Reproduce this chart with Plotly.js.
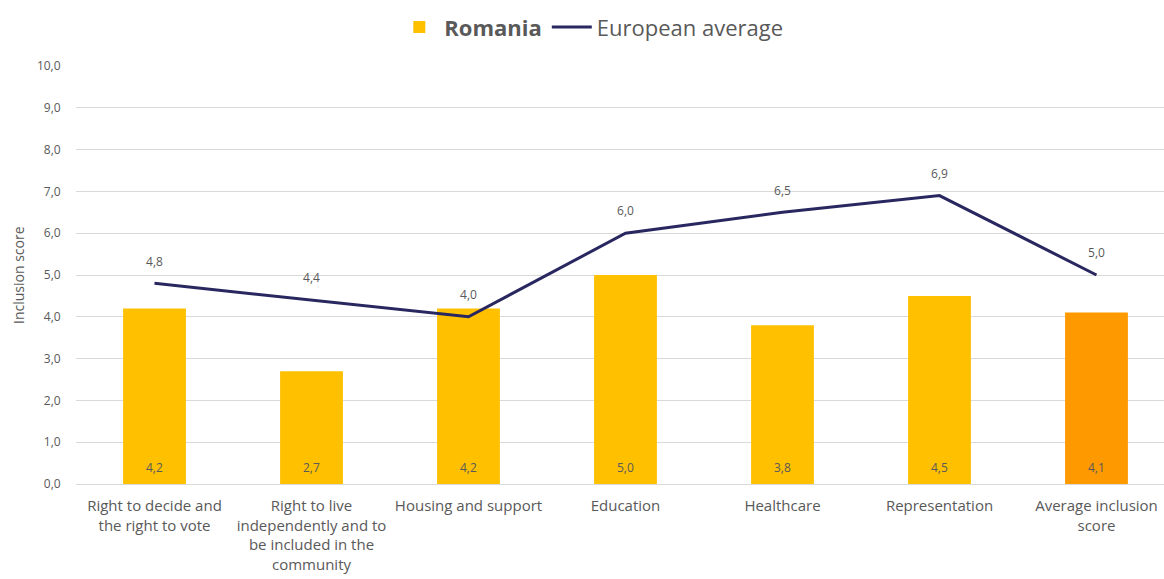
<!DOCTYPE html>
<html>
<head>
<meta charset="utf-8">
<script src="https://cdn.plot.ly/plotly-3.0.1.min.js"></script>
<style>html,body{margin:0;padding:0;background:#fff;}#chart{width:1164px;height:579px;}</style>
</head>
<body>
<div id="chart"></div>
<script>
const categories = [
  "Right to decide and<br>the right to vote",
  "Right to live<br>independently and to<br>be included in the<br>community",
  "Housing and support",
  "Education",
  "Healthcare",
  "Representation",
  "Average inclusion<br>score"
];
const romania = [4.2, 2.7, 4.2, 5.0, 3.8, 4.5, 4.1];
const europeanAverage = [4.8, 4.4, 4.0, 6.0, 6.5, 6.9, 5.0];
const barColors = ["#FFC000", "#FFC000", "#FFC000", "#FFC000", "#FFC000", "#FFC000", "#FF9900"];
const yTicks = [0, 1, 2, 3, 4, 5, 6, 7, 8, 9, 10];

const FONT = "'Open Sans', Lato, sans-serif";
const GRAY = "#595959";

const fmt = v => v.toFixed(1).replace(".", ",");

const traces = [
  {
    type: "bar",
    name: "<b>Romania</b>",
    x: categories,
    y: romania,
    marker: {color: barColors},
    width: 0.4,
    hoverinfo: "skip"
  },
  {
    type: "scatter",
    mode: "lines+markers+text",
    name: "European average",
    x: categories,
    y: europeanAverage,
    line: {color: "#29275F", width: 3},
    marker: {size: 22, color: "rgba(0,0,0,0)"},
    texttemplate: "%{y:.1f}",
    textposition: "top center",
    textfont: {family: FONT, size: 12, color: GRAY},
    cliponaxis: false,
    hoverinfo: "skip"
  }
];

const barLabels = categories.map((c, i) => ({
  x: c,
  y: 0,
  xref: "x",
  yref: "y",
  text: fmt(romania[i]),
  showarrow: false,
  yshift: 17,
  font: {family: FONT, size: 12, color: GRAY}
}));

const yTitle = {
  text: "Inclusion score",
  xref: "paper",
  yref: "paper",
  x: -58 / 1088,
  y: 0.5,
  xanchor: "center",
  yanchor: "middle",
  textangle: -90,
  showarrow: false,
  font: {family: FONT, size: 14, color: GRAY}
};

const layout = {
  width: 1164,
  height: 579,
  margin: {l: 76, r: 0, t: 66, b: 95},
  separators: ", ",
  paper_bgcolor: "#fff",
  plot_bgcolor: "#fff",
  font: {family: FONT, color: GRAY},
  showlegend: true,
  legend: {
    orientation: "h",
    xref: "container",
    yref: "container",
    x: 0.508,
    xanchor: "center",
    y: 0.953,
    yanchor: "middle",
    font: {family: FONT, size: 22, color: GRAY},
    traceorder: "normal",
    itemwidth: 40
  },
  annotations: barLabels.concat([yTitle]),
  xaxis: {
    type: "category",
    range: [-0.5, 6.43],
    tickfont: {family: FONT, size: 15, color: GRAY},
    ticks: "outside",
    ticklen: 8,
    tickcolor: "rgba(0,0,0,0)",
    showline: false,
    showgrid: false,
    fixedrange: true
  },
  yaxis: {
    range: [0, 10],
    tickvals: yTicks,
    tickformat: ".1f",
    tickfont: {family: FONT, size: 12, color: GRAY},
    gridcolor: "#D9D9D9",
    gridwidth: 1,
    zeroline: true,
    zerolinecolor: "#D9D9D9",
    zerolinewidth: 1,
    ticks: "outside",
    ticklen: 12,
    tickcolor: "rgba(0,0,0,0)",
    fixedrange: true
  }
};

Plotly.newPlot("chart", traces, layout, {displayModeBar: false, staticPlot: true});
</script>
</body>
</html>
